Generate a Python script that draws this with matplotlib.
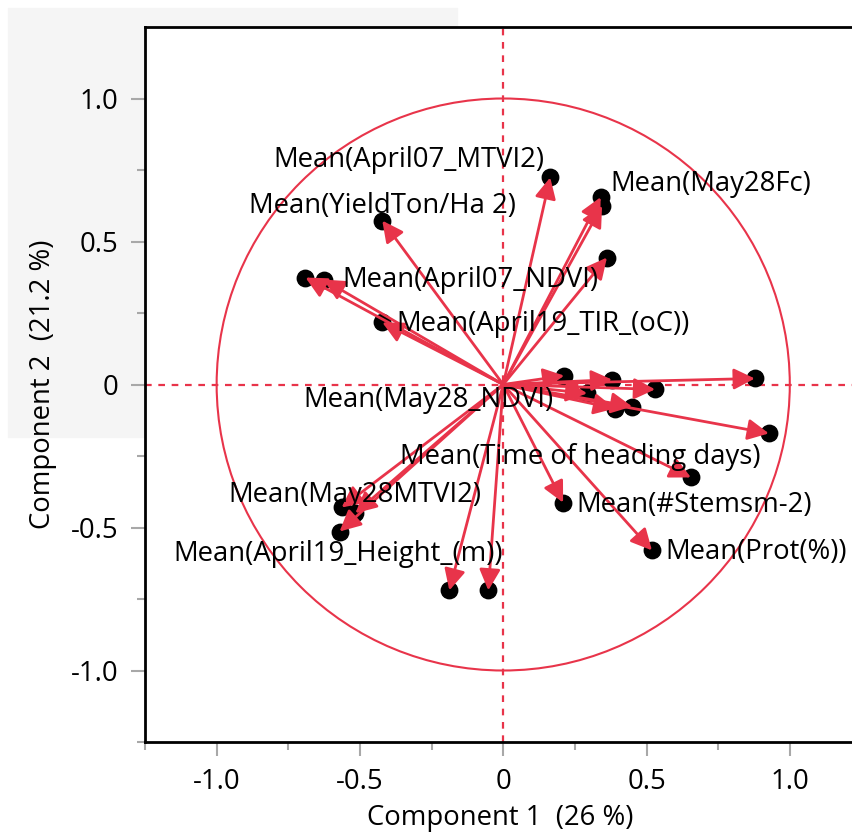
import matplotlib
matplotlib.use('Agg')
import matplotlib.pyplot as plt
from matplotlib.patches import Circle, Rectangle

plt.rcParams['font.family'] = ['Open Sans', 'DejaVu Sans']

# loadings of each variable on component 1 and 2
comp1 = [0.164, 0.340, 0.345, 0.362, -0.422, -0.690, -0.627, -0.422,
         0.213, 0.380, 0.530, 0.293, 0.390, 0.450, 0.878, 0.927,
         0.655, 0.209, 0.519, -0.564, -0.516, -0.571, -0.188, -0.052]
comp2 = [0.724, 0.655, 0.625, 0.444, 0.573, 0.374, 0.367, 0.217,
         0.031, 0.017, -0.017, -0.031, -0.084, -0.077, 0.021, -0.171,
         -0.325, -0.413, -0.580, -0.430, -0.450, -0.514, -0.720, -0.720]

# labelled points: index -> text
labels = {0: 'Mean(April07_MTVI2)', 1: 'Mean(May28Fc)', 4: 'Mean(YieldTon/Ha 2)',
          6: 'Mean(April07_NDVI)', 7: 'Mean(April19_TIR_(oC))', 11: 'Mean(May28_NDVI)',
          16: 'Mean(Time of heading days)', 19: 'Mean(May28MTVI2)',
          21: 'Mean(April19_Height_(m))', 17: 'Mean(#Stemsm-2)', 18: 'Mean(Prot(%))'}
# label offsets in pixels and alignment
label_off = {0: (-6, 17, 'right'), 1: (10, 13, 'left'), 4: (0, 15, 'center'),
             6: (19, 0, 'left'), 7: (14, -2, 'left'), 11: (-159, -7, 'center'),
             16: (-111, 20, 'center'), 19: (13, 12, 'center'),
             21: (-1, -22, 'center'), 17: (13, -2, 'left'), 18: (13, -2, 'left')}

red = '#E8344A'
gray = '#A8A8A8'
fs = 19.8

fig = plt.figure(figsize=(8.53, 8.33), dpi=100)
fig.patches.append(Rectangle((8/853, 1-437/833), 449/853, 429/833,
                             transform=fig.transFigure, color='#F5F5F5', zorder=-10))
ax = fig.add_axes([145/853, 91/833, 715/853, 715/833])

ax.set_xlim(-1.245, 1.245)
ax.set_ylim(-1.25, 1.25)

ax.axhline(0, color=red, lw=1.6, ls=(0, (3, 3)), zorder=1)
ax.axvline(0, color=red, lw=1.6, ls=(0, (3, 3)), zorder=1)
ax.add_patch(Circle((0, 0), 1.0, fill=False, ec=red, lw=1.5, zorder=2))

ax.scatter(comp1, comp2, s=140, color='black', zorder=3)
for x, y in zip(comp1, comp2):
    ax.annotate('', xy=(x, y), xytext=(0, 0),
                arrowprops=dict(arrowstyle='-|>', color=red, lw=2,
                                mutation_scale=32, shrinkA=0, shrinkB=0),
                zorder=4)

for i, txt in labels.items():
    dx, dy, ha = label_off[i]
    ax.annotate(txt, xy=(comp1[i], comp2[i]), xytext=(dx, dy),
                textcoords='offset pixels', ha=ha, va='center',
                fontsize=fs, color='black', zorder=5)

ax.set_xticks([-1.0, -0.5, 0, 0.5, 1.0])
ax.set_xticklabels(['-1.0', '-0.5', '0', '0.5', '1.0'])
ax.set_yticks([-1.0, -0.5, 0, 0.5, 1.0])
ax.set_yticklabels(['-1.0', '-0.5', '0', '0.5', '1.0'])
ax.set_xticks([-1.25, -0.75, -0.25, 0.25, 0.75], minor=True)
ax.set_yticks([-1.25, -0.75, -0.25, 0.25, 0.75], minor=True)
ax.tick_params(which='major', length=10, width=1.5, color=gray, labelsize=fs, pad=9)
ax.tick_params(which='minor', length=6, width=1.5, color=gray)
for s in ax.spines.values():
    s.set_linewidth(2)
    s.set_color('black')

fig.text(500/853, 1-818/833, 'Component 1  (26 %)', ha='center', va='center', fontsize=fs)
fig.text(43/853, 1-384/833, 'Component 2  (21.2 %)', ha='center', va='center',
         rotation=90, fontsize=fs)

fig.savefig('out.png')
